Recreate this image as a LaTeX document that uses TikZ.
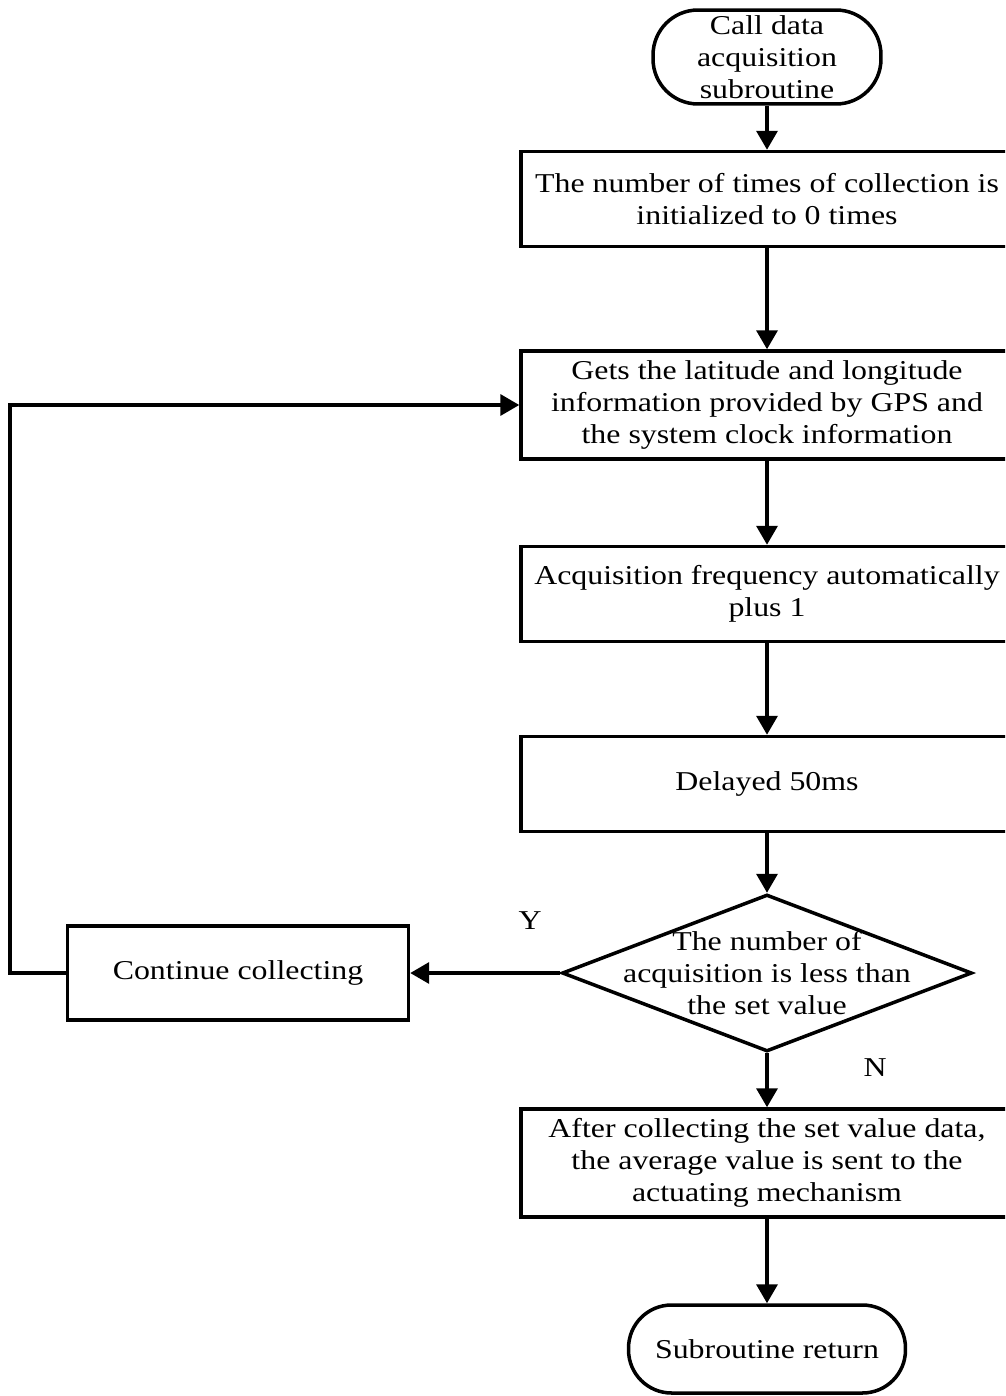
\documentclass[tikz,border=0pt]{standalone}
\usepackage{fontspec}
\setmainfont{Liberation Serif}[FakeStretch=1.17]
\usetikzlibrary{arrows.meta,shapes.geometric}

\begin{document}
\begin{tikzpicture}[x=0.02cm,y=-0.02cm,
	line width=2pt,
	font=\fontsize{15.5}{18.2}\selectfont,
	box/.style={draw,rectangle,align=center,inner sep=0pt,minimum width=9.84cm},
	term/.style={draw,rectangle,rounded corners=0.9cm,align=center,inner sep=0pt},
	arr/.style={-{Triangle[width=0.42cm,length=0.38cm]}}]
		\useasboundingbox (0,0) rectangle (1005,1396);
		\clip (0,0) rectangle (1005,1396);
		\node[term,minimum width=4.56cm,minimum height=1.88cm] (A) at (767,57) {Call data\\acquisition\\subroutine};
		\node[box,minimum height=1.9cm] (B) at (767,199) {The number of times of collection is\\initialized to 0 times};
		\node[box,minimum height=2.16cm] (C) at (767,405) {Gets the latitude and longitude\\information provided by GPS and\\the system clock information};
		\node[box,minimum height=1.9cm] (D) at (767,594) {Acquisition frequency automatically\\plus 1};
		\node[box,minimum height=1.9cm] (E) at (767,784) {Delayed 50ms};
		\node[draw,diamond,inner sep=0pt,minimum width=8.2cm,minimum height=3.14cm] (F) at (767,973) {};
		\node[align=center] at (F) {The number of\\acquisition is less than\\the set value};
		\node[box,minimum width=6.82cm,minimum height=1.88cm] (G) at (238,973) {Continue collecting};
		\node[box,minimum height=2.16cm] (H) at (767,1163) {After collecting the set value data,\\the average value is sent to the\\actuating mechanism};
		\node[term,rounded corners=0.86cm,minimum width=5.54cm,minimum height=1.76cm] (I) at (767,1349) {Subroutine return};
		\node at (530,921) {Y};
		\node at (875,1068) {N};
		\draw[arr] (A)--(B);
		\draw[arr] (B)--(C);
		\draw[arr] (C)--(D);
		\draw[arr] (D)--(E);
		\draw[arr] (E)--(F);
		\draw[arr] (F)--(G);
		\draw[arr] (F)--(H);
		\draw[arr] (H)--(I);
		\draw[arr] (G.west) -- ++(-56,0) |- (C.west);
\end{tikzpicture}
\end{document}
